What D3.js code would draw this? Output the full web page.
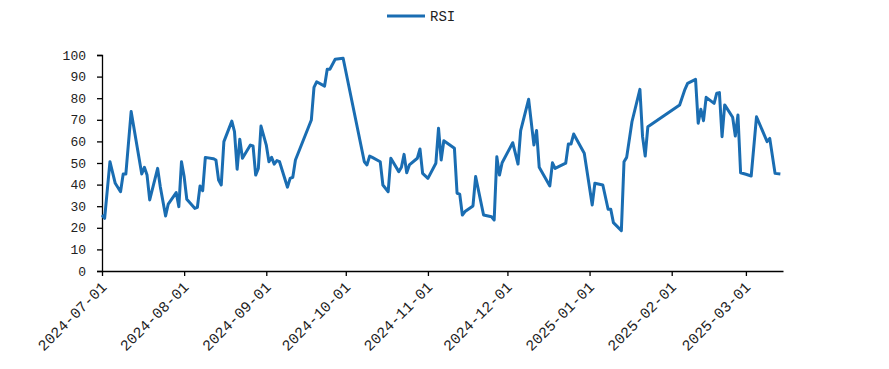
<!DOCTYPE html>
<html>
<head>
<meta charset="utf-8">
<script src="https://cdn.jsdelivr.net/npm/d3@7"></script>
<style>
  html, body { margin: 0; padding: 0; background: #fff; }
  svg { display: block; }
</style>
</head>
<body>
<svg id="chart" width="889" height="369"></svg>
<script>
const seriesName = "RSI";
const dates = [
  "2024-07-01","2024-07-02","2024-07-04","2024-07-06","2024-07-08","2024-07-09","2024-07-10","2024-07-12",
  "2024-07-16","2024-07-17","2024-07-18","2024-07-19","2024-07-22","2024-07-23","2024-07-25","2024-07-26",
  "2024-07-29","2024-07-30","2024-07-31","2024-08-01","2024-08-02","2024-08-05","2024-08-06","2024-08-07",
  "2024-08-08","2024-08-09","2024-08-12","2024-08-13","2024-08-14","2024-08-15","2024-08-16","2024-08-19",
  "2024-08-20","2024-08-21","2024-08-22","2024-08-23","2024-08-26","2024-08-27","2024-08-28","2024-08-29",
  "2024-08-30","2024-09-01","2024-09-02","2024-09-03","2024-09-04","2024-09-05","2024-09-06","2024-09-09",
  "2024-09-10","2024-09-11","2024-09-12","2024-09-18","2024-09-19","2024-09-20","2024-09-23","2024-09-24",
  "2024-09-25","2024-09-27","2024-09-30","2024-10-08","2024-10-09","2024-10-10","2024-10-11","2024-10-14",
  "2024-10-15","2024-10-17","2024-10-18","2024-10-21","2024-10-22","2024-10-23","2024-10-24","2024-10-25",
  "2024-10-28","2024-10-29","2024-10-30","2024-11-01","2024-11-04","2024-11-05","2024-11-06","2024-11-07",
  "2024-11-11","2024-11-12","2024-11-13","2024-11-14","2024-11-15","2024-11-18","2024-11-19","2024-11-22",
  "2024-11-25","2024-11-26","2024-11-27","2024-11-28","2024-11-29","2024-12-03","2024-12-05","2024-12-06",
  "2024-12-09","2024-12-11","2024-12-12","2024-12-13","2024-12-17","2024-12-18","2024-12-19","2024-12-23",
  "2024-12-24","2024-12-25","2024-12-26","2024-12-30","2025-01-02","2025-01-03","2025-01-06","2025-01-08",
  "2025-01-09","2025-01-10","2025-01-13","2025-01-14","2025-01-15","2025-01-17","2025-01-20","2025-01-21",
  "2025-01-22","2025-01-23","2025-02-04","2025-02-06","2025-02-07","2025-02-10","2025-02-11","2025-02-12",
  "2025-02-13","2025-02-14","2025-02-17","2025-02-18","2025-02-19","2025-02-20","2025-02-21","2025-02-24",
  "2025-02-25","2025-02-26","2025-02-27","2025-03-01","2025-03-03","2025-03-05","2025-03-09","2025-03-10",
  "2025-03-12","2025-03-14"
];
const rsiValues = [
  25.9,24.4,50.6,40.6,36.7,44.9,44.9,73.8,
  44.9,48.0,44.4,32.9,47.5,39.0,25.5,31.0,
  36.3,29.8,50.6,43.7,33.2,29.0,29.5,39.4,
  37.2,52.6,52.0,51.4,42.1,39.8,59.9,69.4,
  64.5,47.1,61.0,52.2,58.3,57.9,44.4,47.5,
  67.1,58.3,50.6,52.6,49.5,51.1,50.6,38.8,
  42.9,43.4,51.4,69.9,85.0,87.6,85.6,93.4,
  93.4,98.0,98.5,50.6,49.1,53.2,52.6,50.6,
  39.8,36.7,52.2,46.0,48.0,54.0,45.5,49.1,
  52.2,56.5,45.2,42.9,49.9,66.1,51.4,60.3,
  56.8,36.0,35.6,25.9,27.5,30.1,43.7,25.9,
  25.1,23.6,52.9,44.4,50.1,59.4,49.5,65.0,
  79.5,58.3,65.0,48.0,39.4,50.1,47.5,49.9,
  58.8,58.8,63.4,54.5,30.6,40.6,39.8,28.6,
  28.6,22.4,18.7,50.6,52.6,69.1,84.1,62.2,
  53.2,66.8,76.9,84.1,86.9,88.7,68.4,74.9,
  69.6,80.4,77.6,82.3,82.6,62.2,76.9,71.2,
  62.5,72.2,45.5,44.8,44.0,71.4,59.9,61.4,
  45.2,44.9
];
const xTickLabels = ["2024-07-01","2024-08-01","2024-09-01","2024-10-01","2024-11-01","2024-12-01","2025-01-01","2025-02-01","2025-03-01"];
const yTicks = [0,10,20,30,40,50,60,70,80,90,100];
const xDomain = ["2024-07-01","2025-03-15"];

const parse = d3.timeParse("%Y-%m-%d");
const data = dates.map((d, i) => ({ date: parse(d), value: rsiValues[i] }));

const svg = d3.select("#chart");
const mLeft = 102, mRight = 783, mTop = 55, mBottom = 271;
const color = "#1a6db2";
const font = "'Liberation Mono', 'DejaVu Sans Mono', monospace";

const x = d3.scaleTime().domain(xDomain.map(parse)).range([mLeft, mRight]);
const y = d3.scaleLinear().domain([0, 100]).range([mBottom, mTop]);

// Y axis
const yAxis = svg.append("g")
  .attr("transform", `translate(${mLeft},0)`)
  .call(d3.axisLeft(y).tickValues(yTicks).tickSize(5).tickPadding(11).tickFormat(d3.format("d")));
yAxis.select(".domain").attr("stroke", "#000").attr("stroke-width", 1.3);
yAxis.selectAll(".tick line").attr("stroke", "#000").attr("stroke-width", 1.3);
yAxis.selectAll("text").attr("font-family", font).attr("font-size", 13).attr("fill", "#222");

// X axis
const xAxis = svg.append("g")
  .attr("transform", `translate(0,${mBottom})`)
  .call(d3.axisBottom(x).tickValues(xTickLabels.map(parse)).tickSize(5).tickSizeOuter(0).tickFormat(d3.timeFormat("%Y-%m-%d")));
xAxis.select(".domain").attr("stroke", "#000").attr("stroke-width", 1.3);
xAxis.selectAll(".tick line").attr("stroke", "#000").attr("stroke-width", 1.3);
xAxis.selectAll("text")
  .attr("font-family", font).attr("font-size", 15).attr("fill", "#222")
  .attr("text-anchor", "end")
  .attr("dy", "0")
  .attr("y", 0)
  .attr("transform", "translate(5,17) rotate(-45)");

// Line
const line = d3.line().x(d => x(d.date)).y(d => y(d.value));
svg.append("path")
  .datum(data)
  .attr("fill", "none")
  .attr("stroke", color)
  .attr("stroke-width", 3)
  .attr("stroke-linejoin", "round")
  .attr("d", line);

// Legend
const lg = svg.append("g");
lg.append("line").attr("x1", 387).attr("x2", 425).attr("y1", 16).attr("y2", 16)
  .attr("stroke", color).attr("stroke-width", 3);
lg.append("text").attr("x", 430).attr("y", 21)
  .attr("font-family", font).attr("font-size", 14).attr("fill", "#222")
  .text(seriesName);
</script>
</body>
</html>
